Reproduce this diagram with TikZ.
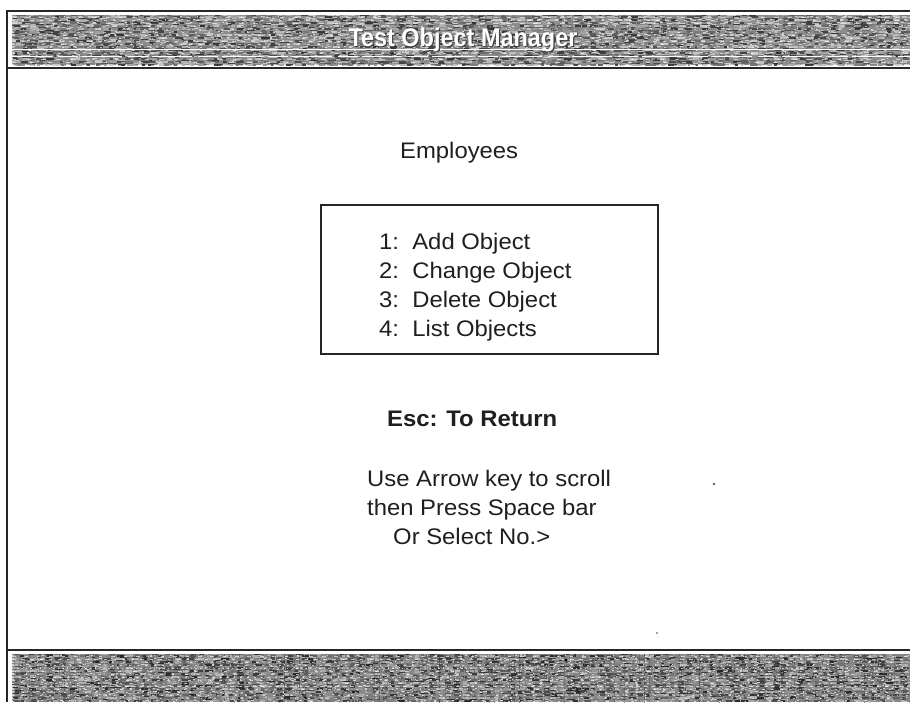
\documentclass[tikz,border=0pt]{standalone}
\usepackage{fontspec}
\setmainfont{Liberation Sans}[FakeStretch=1.06]
\newfontfamily\titlefont{Liberation Sans}[FakeStretch=0.92]
\begin{document}
\begin{tikzpicture}[x=1pt,y=-1pt,
  txt/.style={anchor=base west, inner sep=0pt, text=black!88, font=\fontsize{22.5}{27}\selectfont},
  btxt/.style={txt, font=\fontsize{22.5}{27}\selectfont\bfseries},
  titletxt/.style={anchor=base, inner sep=0pt, font=\titlefont\fontsize{25.5}{30}\selectfont\bfseries},
  frameline/.style={draw=black!85, line width=2.2pt},
  menubox/.style={draw=black!85, line width=1.8pt}]
\useasboundingbox (0,0) rectangle (910,702);
\fill[white] (0,0) rectangle (910,702);
\pgfmathsetseed{11}
% ---- top bar texture ----
\fill[black!45] (12,15) rectangle (910,65);
\foreach \yy in {15.5,17,...,65}{
  \foreach \xx in {12,20,...,904}{
    \pgfmathsetmacro\ga{20+60*rnd}
    \pgfmathsetmacro\xa{\xx+4*rnd}
    \pgfmathsetmacro\xb{\xa+2+7*rnd}
    \draw[line width=1.2pt, black!\ga] (\xa,\yy) -- (\xb,\yy);
  }
  \pgfmathsetmacro\de{1+4*rnd}\pgfmathsetmacro\df{4+12*rnd}
  \draw[line width=0.7pt, white, opacity=0.6, dash pattern=on \de pt off \df pt] (12,\yy+0.7) -- (910,\yy+0.7);
}
\draw[white, line width=1pt] (12,49) -- (910,49);
\draw[white, line width=0.8pt, dash pattern=on 40pt off 6pt on 20pt off 4pt] (12,56) -- (910,56);
% ---- bottom bar texture ----
\fill[black!48] (12,654) rectangle (910,702);
\foreach \yy in {654.5,656,...,702}{
  \foreach \xx in {12,20,...,904}{
    \pgfmathsetmacro\ga{25+60*rnd}
    \pgfmathsetmacro\xa{\xx+4*rnd}
    \pgfmathsetmacro\xb{\xa+2+6*rnd}
    \draw[line width=1.1pt, black!\ga] (\xa,\yy) -- (\xb,\yy);
  }
  \pgfmathsetmacro\de{1+3*rnd}\pgfmathsetmacro\df{3+9*rnd}
  \draw[line width=0.7pt, white, opacity=0.65, dash pattern=on \de pt off \df pt] (12,\yy+0.7) -- (910,\yy+0.7);
}
\foreach \xx in {14,19,...,910}{
  \pgfmathsetmacro\gc{30+50*rnd}
  \pgfmathsetmacro\da{1+3*rnd}\pgfmathsetmacro\db{1+4*rnd}
  \draw[line width=0.6pt, black!\gc, opacity=0.6, dash pattern=on \da pt off \db pt] (\xx,654) -- (\xx,702);
}
\fill[black] (566,660) circle (1.6);
% ---- frame lines ----
\draw[frameline] (7,702) -- (7,11) -- (910,11);
\draw[frameline, line width=2.6pt] (7,68) -- (910,68);
\draw[frameline, line width=2.6pt] (7,650) -- (910,650);
% ---- title ----
\node[titletxt, text=black!75] (titleshadow) at (464.2,47.2) {Test Object Manager};
\node[titletxt, text=white] (title) at (463,46) {Test Object Manager};
% ---- body ----
\node[txt] (employees) at (400,158) {Employees};
\draw[menubox] (321,205) rectangle (658,354);
\node[txt] (m1) at (379,249) {1:\ \ Add Object};
\node[txt] (m2) at (379,278) {2:\ \ Change Object};
\node[txt] (m3) at (379,307) {3:\ \ Delete Object};
\node[txt] (m4) at (379,336) {4:\ \ List Objects};
\node[btxt] (esc) at (387,426) {Esc: To Return};
\node[txt] (use) at (367,486) {Use Arrow key to scroll};
\node[txt] (then) at (367,515) {then Press Space bar};
\node[txt] (orsel) at (393,544) {Or Select No.>};
\fill[black!80] (714,484) circle (1.2);
\fill[black!70] (657,633) circle (0.9);
\end{tikzpicture}
\end{document}
